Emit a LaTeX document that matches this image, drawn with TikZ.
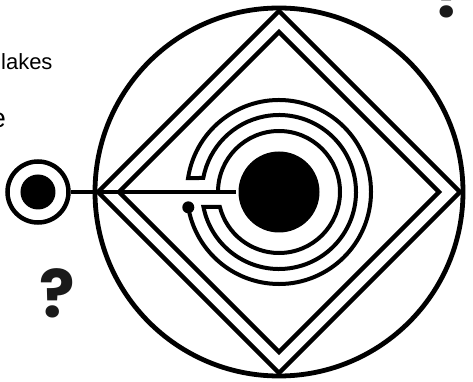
\documentclass[tikz,border=0pt]{standalone}
\usepackage{fontspec}
\setmainfont{Liberation Sans}
\newfontfamily\qfont{Poppins}
\usetikzlibrary{positioning}
\definecolor{markgray}{HTML}{1A1A1A}

\begin{document}
\begin{tikzpicture}[
        x=1pt, y=1pt,
        line width=4.3pt,
        dot/.style={circle, fill=black, inner sep=0pt},
        ring/.style={circle, draw=black, inner sep=0pt, line width=4.5pt},
        maze/.style={line width=4pt},
        txt/.style={inner sep=0pt, font=\fontsize{22}{26}\selectfont},
        qmark/.style={inner sep=0pt, text=markgray,
                      font=\qfont\fontsize{66}{66}\selectfont\bfseries}
      ]
        \useasboundingbox (-279,-190) rectangle (194,192);
        \draw[line width=4.8pt] (0,0) circle[radius=184];
        \draw (0,181) -- (181,0) -- (0,-181) -- (-181,0) -- cycle;
        \draw (0,160) -- (160,0) -- (0,-160) -- (-160,0) -- cycle;

        \node[dot, minimum size=81pt] (core) at (0,0) {};
        \node[ring, minimum size=61pt] (target) at (-241,0) {};
        \node[dot, minimum size=35pt] (bull) at (target) {};
        \draw[line width=4pt] (target) -- (core);

        \draw[maze] (180:61) arc[start angle=180, end angle=-165.8, radius=61]
          -- (-168.8:77) arc[start angle=-168.8, end angle=169.5, radius=77]
          -- (171.3:92) arc[start angle=171.3, end angle=-170.4, radius=92]
          coordinate (tail);
        \node[dot, minimum size=12pt] (knob) at (tail) {};

        \node[txt, anchor=base west] (lakes) at (-280,122) {lakes};
        \node[txt, font=\fontsize{27}{30}\selectfont, anchor=base east] (e) at (-271,64) {e};
        \node[qmark, anchor=base] (qleft) at (-222,-125) {?};
        \node[qmark, anchor=base] (qright) at (172,174) {?};
      \end{tikzpicture}
\end{document}
